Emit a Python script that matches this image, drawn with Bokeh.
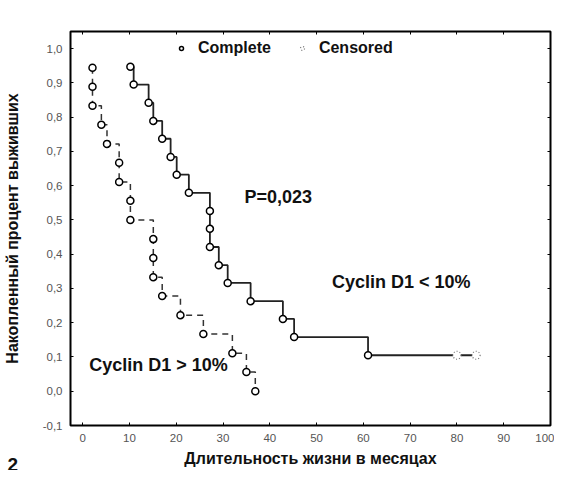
import numpy as np
from bokeh.plotting import figure
from bokeh.models import (LinearAxis, FixedTicker, CustomJSTickFormatter, Label,
                          Legend, LegendItem, Range1d, Title)
from bokeh.embed import file_html
from bokeh.resources import INLINE

# ---- data ----
# Cyclin D1 < 10% (solid line)
g1_time = [10.2, 10.9, 14.1, 15.1, 17.0, 18.8, 20.1, 22.7, 27.2, 27.2, 27.2,
           29.1, 31.0, 35.9, 42.8, 45.2, 61.0]
g1_surv = [0.947, 0.895, 0.842, 0.789, 0.737, 0.684, 0.632, 0.579, 0.526, 0.474,
           0.421, 0.368, 0.316, 0.263, 0.211, 0.158, 0.105]
g1_cens_time = [80.0, 84.1]
g1_cens_surv = [0.105, 0.105]

# Cyclin D1 > 10% (dashed line)
g2_time = [2.1, 2.1, 2.1, 4.0, 5.2, 7.8, 7.8, 10.2, 10.2, 15.1, 15.1, 15.1,
           17.0, 20.9, 25.8, 32.0, 35.0, 36.9]
g2_surv = [0.944, 0.889, 0.833, 0.778, 0.722, 0.667, 0.611, 0.556, 0.500, 0.444,
           0.389, 0.333, 0.278, 0.222, 0.167, 0.111, 0.056, 0.000]

x_ticks = [0, 10, 20, 30, 40, 50, 60, 70, 80, 90, 100]
y_ticks = [-0.1, 0.0, 0.1, 0.2, 0.3, 0.4, 0.5, 0.6, 0.7, 0.8, 0.9, 1.0]

FONT = "Liberation Sans"
INK = "#111111"

p = figure(width=554, height=470, x_range=Range1d(-2.6, 100), y_range=Range1d(-0.1, 1.05),
           output_backend="svg", toolbar_location=None,
           min_border_left=66, min_border_right=2, min_border_top=31, min_border_bottom=45)
p.grid.visible = False
p.outline_line_color = "black"
p.outline_line_width = 2
p.background_fill_color = "white"
p.border_fill_color = "white"


def style_axis(ax):
    ax.axis_line_color = None
    ax.major_tick_in = 3
    ax.major_tick_out = 0
    ax.major_tick_line_color = "black"
    ax.major_tick_line_width = 1
    ax.minor_tick_line_color = None
    ax.major_label_text_font = FONT
    ax.major_label_text_font_size = "11.5px"
    ax.major_label_text_color = "#555555"
    ax.axis_label_text_font = FONT
    ax.axis_label_text_font_style = "bold"
    ax.axis_label_text_font_size = "16px"
    ax.axis_label_text_color = INK


ax_l = p.yaxis[0]
ax_l.ticker = FixedTicker(ticks=y_ticks)
ax_l.formatter = CustomJSTickFormatter(code="return tick.toFixed(1).replace('.', ',');")
style_axis(ax_l)
ax_l.major_label_standoff = 8
ax_l.axis_label = "Накопленный процент выживших"
ax_l.axis_label_standoff = 19

ax_b = p.xaxis[0]
ax_b.ticker = FixedTicker(ticks=x_ticks)
style_axis(ax_b)
ax_b.major_label_standoff = 8
ax_b.axis_label = "Длительность жизни в месяцах"
ax_b.axis_label_standoff = 5

ax_r = LinearAxis(ticker=FixedTicker(ticks=y_ticks),
                  major_label_overrides={t: " " for t in y_ticks})
style_axis(ax_r)
ax_r.major_label_text_font_size = "4px"
ax_r.major_label_standoff = 0
ax_r.axis_label_standoff = 0
p.add_layout(ax_r, "right")

ax_t = LinearAxis(ticker=FixedTicker(ticks=x_ticks),
                  major_label_overrides={t: " " for t in x_ticks})
style_axis(ax_t)
ax_t.major_label_text_font_size = "4px"
ax_t.major_label_standoff = 0
ax_t.axis_label_standoff = 0
p.add_layout(ax_t, "above")

# step lines
p.step(g1_time + g1_cens_time, g1_surv + g1_cens_surv, mode="after",
       line_color="#222222", line_width=1.8)
p.step(g2_time, g2_surv, mode="after", line_color="#333333", line_width=1.5,
       line_dash="6 5")

# markers
r_comp = p.scatter(g1_time + g2_time, g1_surv + g2_surv, marker="circle", size=7,
                   fill_color="white", line_color="black", line_width=1.5)
r_cens = p.scatter(g1_cens_time, g1_cens_surv, marker="circle", size=8,
                   fill_color="white", line_color="#777777", line_width=1.2,
                   line_dash="1 2")

legend = Legend(items=[LegendItem(label="Complete", renderers=[r_comp]),
                       LegendItem(label="Censored", renderers=[r_cens])],
                orientation="horizontal", location=(106, 368),
                border_line_color=None, background_fill_alpha=0,
                glyph_width=10, glyph_height=10, label_standoff=12, spacing=26,
                padding=3, margin=0,
                label_text_font=FONT, label_text_font_style="bold",
                label_text_font_size="16px", label_text_color=INK)
p.add_layout(legend, "center")

# figure number at the lower left corner (zero-height row under the x axis)
p.add_layout(Title(text="2", align="left", offset=-63, vertical_align="top",
                   standoff=-23, text_font=FONT, text_font_style="bold",
                   text_font_size="19px", text_color=INK), "below")


def add_label(x, y, text, size):
    p.add_layout(Label(x=x, y=y, text=text, text_align="left",
                       text_baseline="middle", text_font=FONT,
                       text_font_style="bold", text_font_size=size,
                       text_color=INK))


add_label(34.6, 0.566, "P=0,023", "18px")
add_label(53.3, 0.319, "Cyclin D1 < 10%", "18px")
add_label(1.4, 0.078, "Cyclin D1 > 10%", "18px")

open("out.html", "w").write(file_html(p, INLINE))
